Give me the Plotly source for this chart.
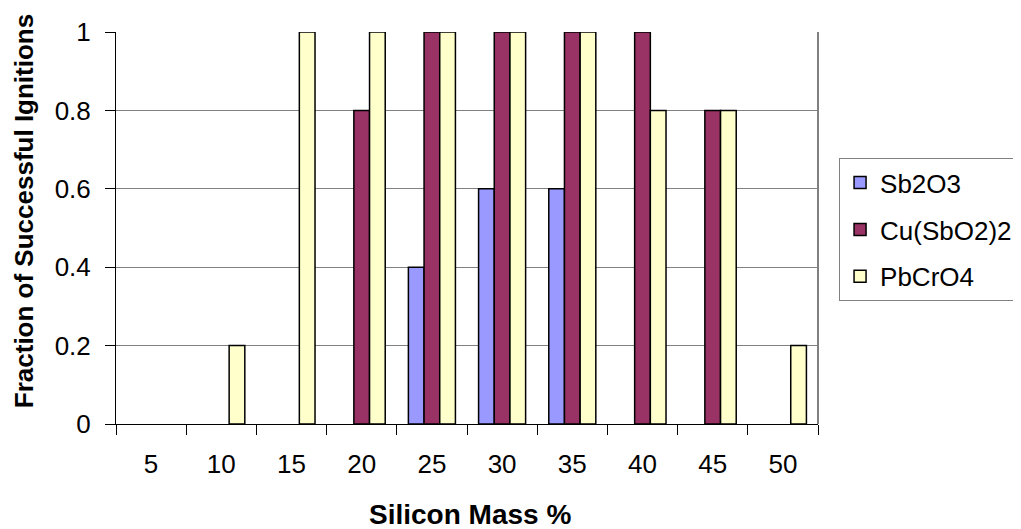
import plotly.graph_objects as go

categories = ["5", "10", "15", "20", "25", "30", "35", "40", "45", "50"]
sb2o3 = [0, 0, 0, 0, 0.4, 0.6, 0.6, 0, 0, 0]
cusbo2 = [0, 0, 0, 0.8, 1, 1, 1, 1, 0.8, 0]
pbcro4 = [0, 0.2, 1, 1, 1, 1, 1, 0.8, 0.8, 0.2]
yticks = [0, 0.2, 0.4, 0.6, 0.8, 1]
ytick_labels = ["0", "0.2", "0.4", "0.6", "0.8", "1"]

series = [("Sb2O3", sb2o3, "#9999FF"), ("Cu(SbO2)2", cusbo2, "#993366"), ("PbCrO4", pbcro4, "#FFFFCC")]

fig = go.Figure()
for name, vals, col in series:
    # zero-height bars are not drawn in the original
    fig.add_trace(go.Bar(x=categories, y=[v if v else None for v in vals], name=name, legendgroup=name,
                         marker=dict(color=col, line=dict(color="black", width=1.5))))

font = "Liberation Sans, Arial, sans-serif"
fig.update_layout(
    width=1013, height=521,
    margin=dict(l=108, r=203, t=24, b=105, autoexpand=False),
    paper_bgcolor="white", plot_bgcolor="white",
    barmode="group", bargap=0.33, bargroupgap=0,
    font=dict(family=font, size=26, color="black"),
    showlegend=True,
    legend=dict(x=1.030, y=0.678, xanchor="left", yanchor="top",
                bordercolor="#808080", borderwidth=1, bgcolor="white",
                font=dict(size=26), itemwidth=30, tracegroupgap=10),
    xaxis=dict(type="category", tickson="boundaries", ticks="outside", ticklen=10,
               tickcolor="black", showline=True, linecolor="black", linewidth=1,
               showgrid=False, ticklabelstandoff=17),
    yaxis=dict(range=[0, 1], tickvals=yticks, ticktext=ytick_labels,
               ticks="outside", ticklen=10, tickcolor="black",
               showline=True, linecolor="black", linewidth=1,
               showgrid=True, gridcolor="#808080", gridwidth=1, zeroline=False,
               ticklabelstandoff=9),
    annotations=[
        dict(text="<b>Silicon Mass %</b>", xref="paper", yref="paper", x=0.504, y=-0.232,
             xanchor="center", yanchor="middle", showarrow=False, font=dict(size=28)),
        dict(text="<b>Fraction of Successful Ignitions</b>", xref="paper", yref="paper",
             x=-0.131, y=0.543, xanchor="center", yanchor="middle", textangle=-90,
             showarrow=False, font=dict(size=26)),
    ],
)
fig.add_shape(type="line", xref="paper", yref="paper", x0=1, x1=1, y0=0, y1=1,
              line=dict(color="#808080", width=2))
fig.write_html("out.html")
